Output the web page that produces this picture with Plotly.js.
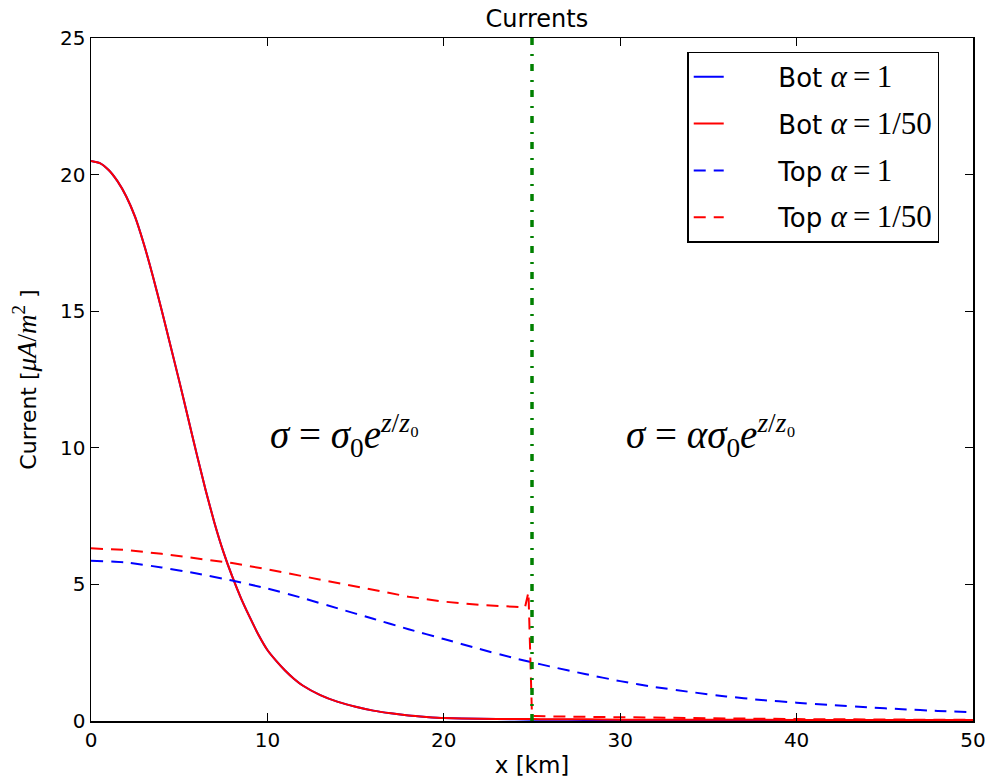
<!DOCTYPE html>
<html><head><meta charset="utf-8">
<script src="https://cdn.plot.ly/plotly-3.0.1.min.js"></script>
<style>html,body{margin:0;padding:0;background:#fff}#chart{width:985px;height:782px}</style>
</head><body><div id="chart"></div>
<script>
// ---- data ----
const xBot = [0,0.5,1,1.5,2,2.5,3,3.5,4,4.5,5,5.5,6,6.5,7,7.5,8,8.5,9,9.5,10,10.5,11,11.5,12,13,14,15,16,17,18,19,20,22,24,25,26,28,30,35,40,45,50];
const botAlpha1 = [20.5,20.42,20.17,19.76,19.2,18.45,17.45,16.3,15.05,13.75,12.45,11.1,9.75,8.45,7.25,6.2,5.3,4.5,3.8,3.15,2.6,2.2,1.85,1.55,1.3,0.95,0.7,0.52,0.38,0.28,0.2,0.15,0.11,0.08,0.06,0.05,0.05,0.04,0.04,0.03,0.03,0.02,0.02];
const botAlpha50 = [20.5,20.42,20.17,19.76,19.2,18.45,17.45,16.3,15.05,13.75,12.45,11.1,9.75,8.45,7.25,6.2,5.3,4.5,3.8,3.15,2.6,2.2,1.85,1.55,1.3,0.95,0.7,0.52,0.38,0.28,0.2,0.15,0.11,0.08,0.07,0.07,0.06,0.06,0.05,0.05,0.04,0.04,0.04];

const xTop1 = [0,2,4,6,8,10,12,14,16,18,20,22,24,25,26,28,30,32,34,36,38,40,42,44,46,48,50];
const topAlpha1 = [5.87,5.80,5.62,5.40,5.14,4.85,4.5,4.12,3.74,3.36,3.0,2.64,2.3,2.15,2.0,1.72,1.46,1.24,1.06,0.9,0.77,0.67,0.58,0.5,0.43,0.37,0.32];

const xTop50 = [0,2,4,6,8,10,12,14,16,18,20,22,24,24.6,24.8,25.0,26,28,30,35,40,45,50];
const topAlpha50 = [6.32,6.26,6.12,5.95,5.78,5.55,5.3,5.05,4.8,4.55,4.37,4.25,4.18,4.15,4.72,0.18,0.17,0.15,0.14,0.1,0.07,0.05,0.04];

const boundaryX = 25;
const boundaryY = [0, 25];

const xTicks = [0,10,20,30,40,50];
const yTicks = [0,5,10,15,20,25];

const M = 'font-family:Liberation Serif;font-size:31px';
const legendNames = [
  'Bot <span style="'+M+'"><i>α</i>\u2009=\u20091</span>',
  'Bot <span style="'+M+'"><i>α</i>\u2009=\u20091/50</span>',
  'Top <span style="'+M+'"><i>α</i>\u2009=\u20091</span>',
  'Top <span style="'+M+'"><i>α</i>\u2009=\u20091/50</span>'
];
const pad = '\u00a0\u00a0\u00a0\u00a0\u00a0\u00a0';

const traces = [
  {x:xBot, y:botAlpha1, mode:'lines', name:pad+legendNames[0], legendgroup:'a',
   line:{color:'#0000ff', width:2, shape:'spline', smoothing:0.5}},
  {x:xBot, y:botAlpha50, mode:'lines', name:pad+legendNames[1], legendgroup:'b',
   line:{color:'#ff0000', width:2, shape:'spline', smoothing:0.5}},
  {x:xTop1, y:topAlpha1, mode:'lines', name:pad+legendNames[2], legendgroup:'c',
   line:{color:'#0000ff', width:2, dash:'12px,8px', shape:'spline', smoothing:0.5}},
  {x:xTop50, y:topAlpha50, mode:'lines', name:pad+legendNames[3], legendgroup:'d',
   line:{color:'#ff0000', width:2, dash:'12px,8px'}},
  {x:[boundaryX, boundaryX], y:boundaryY, mode:'lines', showlegend:false, hoverinfo:'skip',
   line:{color:'#008000', width:3.5, dash:'7px,8px,2px,9px'}}
];

const mathFont = {family:'Liberation Serif, DejaVu Serif, serif', size:39, color:'#000'};

const layout = {
  width:985, height:782,
  margin:{l:91, r:12, t:38, b:61},
  paper_bgcolor:'#fff', plot_bgcolor:'#fff',
  font:{family:'DejaVu Sans, sans-serif', size:20, color:'#000'},
  title:{text:'Currents', font:{size:24, color:'#000'}, x:0.545, xref:'container', xanchor:'center', y:0.976, yref:'container', yanchor:'middle'},
  showlegend:true,
  legend:{x:0.676, y:0.70, xanchor:'left', yanchor:'bottom', bordercolor:'#000', borderwidth:1.5,
          bgcolor:'#fff', font:{size:26, color:'#000'}, traceorder:'grouped', tracegroupgap:10, itemwidth:30},
  xaxis:{range:[0,50], tickvals:xTicks, ticks:'inside', ticklen:8, tickwidth:1, tickcolor:'#000',
         mirror:'ticks', showline:true, linecolor:'#000', linewidth:1.5, showgrid:false, zeroline:false,
         ticklabeloverflow:'allow',
         tickfont:{size:20}, title:{text:'x [km]', font:{size:23}, standoff:6}},
  yaxis:{range:[0,25], tickvals:yTicks, ticks:'inside', ticklen:8, tickwidth:1, tickcolor:'#000',
         mirror:'ticks', showline:true, linecolor:'#000', linewidth:1.5, showgrid:false, zeroline:false,
         ticklabeloverflow:'allow',
         tickfont:{size:20},
         title:{text:'Current [<span style="font-family:Liberation Serif;font-size:27px"><i>μA</i>/<i>m</i><sup>2</sup></span> ]', font:{size:22}, standoff:17}},
  annotations:[
    {x:14.35, y:10.45, xref:'x', yref:'y', showarrow:false, font:mathFont,
     text:'<i>σ</i> = <i>σ</i><sub>0</sub><i>e</i><sup><i>z</i>/<i>z</i>₀</sup>'},
    {x:35.15, y:10.45, xref:'x', yref:'y', showarrow:false, font:mathFont,
     text:'<i>σ</i> = <i>ασ</i><sub>0</sub><i>e</i><sup><i>z</i>/<i>z</i>₀</sup>'}
  ]
};

Plotly.newPlot('chart', traces, layout, {displayModeBar:false, staticPlot:true});
</script></body></html>
